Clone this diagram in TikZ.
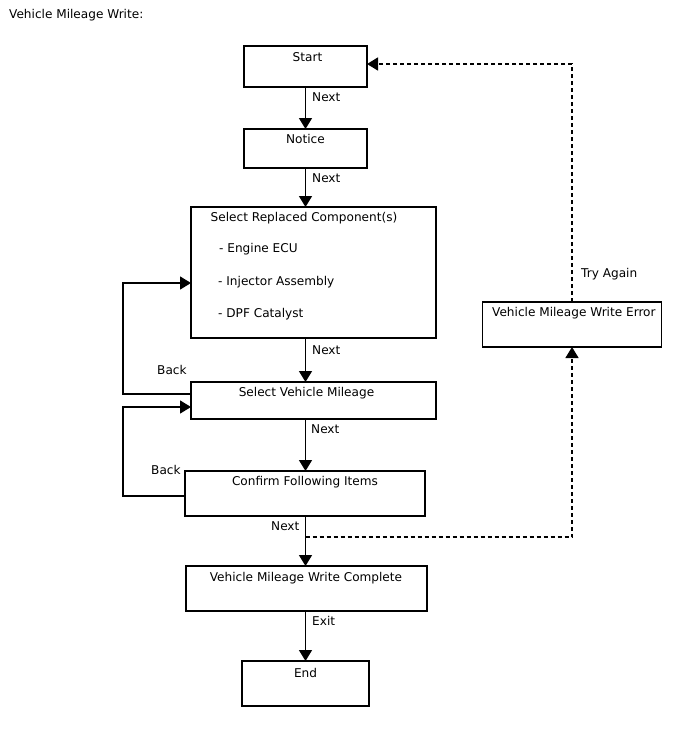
\documentclass[tikz,border=0pt]{standalone}
\usepackage{fontspec}
\setmainfont{DejaVu Sans}
\usetikzlibrary{arrows.meta}
\begin{document}
\begin{tikzpicture}[x=1pt,y=-1pt,
  box/.style={draw, line width=1.5pt, rectangle, inner sep=0pt, outer sep=0pt},
  txt/.style={inner sep=0pt, anchor=base, font=\fontsize{12.1}{14}\selectfont},
  txtl/.style={txt, anchor=base west},
  arr/.style={line width=1.5pt, -{Triangle[length=11pt,width=13pt]}},
  darr/.style={line width=1.4pt, -{Triangle[length=11pt,width=13pt]}, dash pattern=on 4pt off 3pt}]
\useasboundingbox (0,0) rectangle (688,755);
% boxes
\node[box, minimum width=123pt, minimum height=41pt] (start) at (305.5,66.5) {};
\node[box, minimum width=123pt, minimum height=39pt] (notice) at (305.5,148.5) {};
\node[box, minimum width=245pt, minimum height=131pt] (select) at (313.5,272.5) {};
\node[box, minimum width=245pt, minimum height=37pt] (mileage) at (313.5,400.5) {};
\node[box, minimum width=240pt, minimum height=45pt] (confirm) at (305,493.5) {};
\node[box, minimum width=241pt, minimum height=45pt] (complete) at (306.5,588.5) {};
\node[box, minimum width=127pt, minimum height=45pt] (end) at (305.5,683.5) {};
\node[box, minimum width=179pt, minimum height=45pt] (error) at (572,324.5) {};
% texts
\node[txtl] (title) at (9,18) {Vehicle Mileage Write:};
\node[txt] (tstart) at (307.5,61) {Start};
\node[txt] (tnotice) at (305.5,143) {Notice};
\node[txt] (tselect) at (304,221) {Select Replaced Component(s)};
\node[txtl] (ti1) at (219,252) {- Engine ECU};
\node[txtl] (ti2) at (218,285) {- Injector Assembly};
\node[txtl] (ti3) at (218,317) {- DPF Catalyst};
\node[txt] (tmileage) at (306.5,396) {Select Vehicle Mileage};
\node[txt] (tconfirm) at (305,485) {Confirm Following Items};
\node[txt] (tcomplete) at (306,581) {Vehicle Mileage Write Complete};
\node[txt] (tend) at (305.5,677) {End};
\node[txtl] (terror) at (492,316) {Vehicle Mileage Write Error};
% connector labels
\node[txtl] (l1) at (312,101) {Next};
\node[txtl] (l2) at (312,182) {Next};
\node[txtl] (l3) at (312,354) {Next};
\node[txtl] (l4) at (311,433) {Next};
\node[txtl] (l5) at (271,530) {Next};
\node[txtl] (l6) at (312,625) {Exit};
\node[txtl] (b1) at (157,374) {Back};
\node[txtl] (b2) at (151,474) {Back};
\node[txtl] (ta) at (581,277) {Try Again};
% connectors
\coordinate (cx) at (305.5,0);
\coordinate (lane) at (123,0);
\coordinate (split) at (305.5,537);
\draw[arr] (start.south -| cx) -- (notice.north -| cx);
\draw[arr] (notice.south -| cx) -- (select.north -| cx);
\draw[arr] (select.south -| cx) -- (mileage.north -| cx);
\draw[arr] (mileage.south -| cx) -- (confirm.north -| cx);
\draw[arr] (confirm.south -| cx) -- (complete.north -| cx);
\draw[arr] (complete.south -| cx) -- (end.north -| cx);
\draw[arr] (mileage.west |- 0,394) -| (lane |- 0,283) -- (select.west |- 0,283);
\draw[arr] (confirm.west |- 0,496) -| (lane |- 0,407) -- (mileage.west |- 0,407);
\draw[darr] (split) -| (error.south);
\draw[darr] (error.north) |- (start.east |- 0,64);
\end{tikzpicture}
\end{document}
